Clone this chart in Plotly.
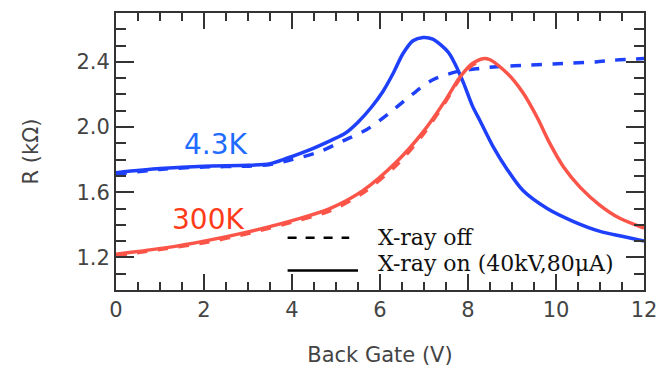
import plotly.graph_objects as go

# 4.3K, X-ray on (solid blue)
b_on_x = [0, 1, 2, 3, 3.5, 3.9, 4.4, 4.9, 5.2, 5.5, 5.8, 6.07, 6.3, 6.52, 6.75, 6.98, 7.2, 7.55, 7.7, 7.9, 8.1, 8.27, 8.57, 8.89, 9.25, 9.8, 10.4, 11.0, 11.5, 12]
b_on_y = [1.72, 1.745, 1.76, 1.765, 1.775, 1.81, 1.86, 1.92, 1.96, 2.03, 2.12, 2.22, 2.33, 2.45, 2.53, 2.55, 2.54, 2.46, 2.39, 2.27, 2.13, 2.04, 1.88, 1.74, 1.61, 1.50, 1.42, 1.36, 1.33, 1.30]
# 4.3K, X-ray off (dashed blue)
b_off_x = [0, 1, 2, 3, 3.5, 4, 4.64, 5.16, 5.7, 6.23, 6.73, 7.2, 7.75, 8.27, 8.65, 9.4, 10.16, 10.9, 11.3, 12]
b_off_y = [1.71, 1.74, 1.755, 1.76, 1.77, 1.80, 1.85, 1.915, 1.985, 2.09, 2.20, 2.29, 2.34, 2.36, 2.37, 2.38, 2.39, 2.40, 2.41, 2.42]
# 300K, X-ray on (solid red)
r_on_x = [0, 1.15, 2, 3.05, 4.18, 4.86, 5.61, 6.39, 6.98, 7.5, 7.8, 8.1, 8.43, 8.89, 9.25, 9.57, 9.86, 10.16, 10.55, 11.0, 11.45, 12]
r_on_y = [1.22, 1.26, 1.30, 1.36, 1.44, 1.50, 1.61, 1.79, 1.97, 2.17, 2.30, 2.39, 2.42, 2.33, 2.21, 2.06, 1.90, 1.76, 1.63, 1.52, 1.44, 1.38]
# 300K, X-ray off (dashed red)
r_off_x = [0, 1.15, 2, 3.05, 4.18, 4.86, 5.61, 6.39, 6.98, 7.5, 7.8, 8.1, 8.43]
r_off_y = [1.21, 1.255, 1.29, 1.35, 1.43, 1.485, 1.595, 1.77, 1.955, 2.16, 2.29, 2.38, 2.42]

BLUE = "#1f40fa"
RED = "#fb5448"

fig = go.Figure()
fig.add_trace(go.Scatter(x=b_off_x, y=b_off_y, mode="lines", line=dict(color=BLUE, width=3.5, dash="dash", shape="spline", smoothing=0.8)))
fig.add_trace(go.Scatter(x=r_off_x, y=r_off_y, mode="lines", line=dict(color=RED, width=3.5, dash="dash", shape="spline", smoothing=0.8)))
fig.add_trace(go.Scatter(x=b_on_x, y=b_on_y, mode="lines", line=dict(color=BLUE, width=3.5, shape="spline", smoothing=0.8)))
fig.add_trace(go.Scatter(x=r_on_x, y=r_on_y, mode="lines", line=dict(color=RED, width=3.5, shape="spline", smoothing=0.8)))

# legend samples
fig.add_shape(type="line", x0=3.9, x1=5.3, y0=1.32, y1=1.32, line=dict(color="black", width=2.5, dash="dash"))
fig.add_shape(type="line", x0=3.9, x1=5.5, y0=1.12, y1=1.12, line=dict(color="black", width=2.5))
fig.add_annotation(x=5.9, y=1.32, text="X-ray off", showarrow=False, xanchor="left",
                   font=dict(family="DejaVu Serif", size=22, color="#111"))
fig.add_annotation(x=5.9, y=1.16, text="X-ray on (40kV,80μA)", showarrow=False, xanchor="left",
                   font=dict(family="DejaVu Serif", size=22, color="#111"))
fig.add_annotation(x=2.27, y=1.89, text="4.3K", showarrow=False,
                   font=dict(family="DejaVu Sans", size=28, color="#1f6cff"))
fig.add_annotation(x=2.1, y=1.43, text="300K", showarrow=False,
                   font=dict(family="DejaVu Sans", size=28, color="#ff3b1a"))

axis_common = dict(showline=True, linecolor="#333", linewidth=2, mirror="allticks",
                   ticks="inside", tickcolor="#333", tickwidth=2, showgrid=False, zeroline=False,
                   automargin=False,
                   tickfont=dict(family="DejaVu Sans", size=21, color="#444"))
fig.update_xaxes(range=[0, 12], dtick=2, ticklen=16,
                 minor=dict(dtick=0.5, ticklen=8, ticks="inside", tickcolor="#333", tickwidth=2, showgrid=False),
                 title=dict(text="Back Gate (V)", font=dict(family="DejaVu Sans", size=21, color="#444"), standoff=26),
                 **axis_common)
fig.update_yaxes(range=[1.0, 2.7], tickvals=[1.2, 1.6, 2.0, 2.4], ticktext=["1.2", "1.6", "2.0", "2.4"], ticklen=18,
                 minor=dict(dtick=0.1, ticklen=10, ticks="inside", tickcolor="#333", tickwidth=2, showgrid=False),
                 title=dict(text="R (kΩ)", font=dict(family="DejaVu Sans", size=21, color="#444"), standoff=32),
                 **axis_common)
fig.update_layout(width=659, height=369, margin=dict(l=116, r=15, t=13, b=79),
                  plot_bgcolor="white", paper_bgcolor="white", showlegend=False)
fig.write_html("out.html")
